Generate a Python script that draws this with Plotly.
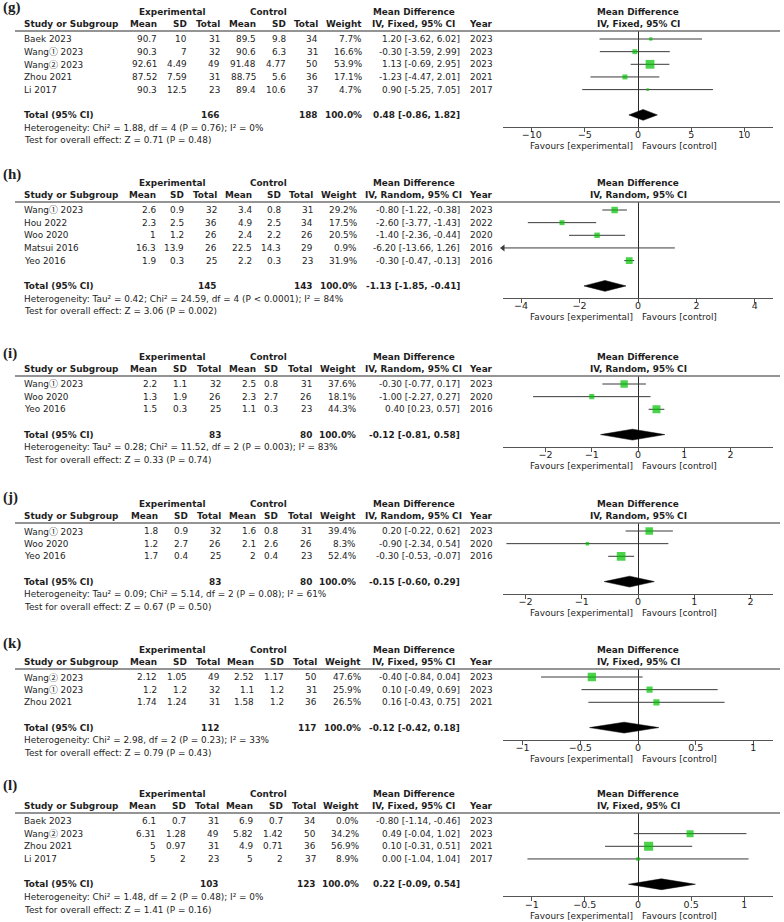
import math
import plotly.graph_objects as go

W, H = 784, 922
FONT = "DejaVu Sans, Noto Sans CJK JP"
FS = 8.9
PITCH = 12.65
TXT = "#1e1e1e"
GREEN = "#00C000"

# ---------------- data: panel (g) ----------------
g_study = ["Baek 2023", "Wang① 2023", "Wang② 2023", "Zhou 2021", "Li 2017"]
g_exp_mean = [90.7, 90.3, 92.61, 87.52, 90.3]
g_exp_sd = [10, 7, 4.49, 7.59, 12.5]
g_exp_n = [31, 32, 49, 31, 23]
g_ctl_mean = [89.5, 90.6, 91.48, 88.75, 89.4]
g_ctl_sd = [9.8, 6.3, 4.77, 5.6, 10.6]
g_ctl_n = [34, 31, 50, 36, 37]
g_weight = [7.7, 16.6, 53.9, 17.1, 4.7]
g_md = [1.20, -0.30, 1.13, -1.23, 0.90]
g_lo = [-3.62, -3.59, -0.69, -4.47, -5.25]
g_hi = [6.02, 2.99, 2.95, 2.01, 7.05]
g_year = [2023, 2023, 2023, 2021, 2017]
g_total = [166, 188, 0.48, -0.86, 1.82]
g_het = "Heterogeneity: Chi² = 1.88, df = 4 (P = 0.76); I² = 0%"
g_test = "Test for overall effect: Z = 0.71 (P = 0.48)"

# ---------------- data: panel (h) ----------------
h_study = ["Wang① 2023", "Hou 2022", "Woo 2020", "Matsui 2016", "Yeo 2016"]
h_exp_mean = [2.6, 2.3, 1, 16.3, 1.9]
h_exp_sd = [0.9, 2.5, 1.2, 13.9, 0.3]
h_exp_n = [32, 36, 26, 26, 25]
h_ctl_mean = [3.4, 4.9, 2.4, 22.5, 2.2]
h_ctl_sd = [0.8, 2.5, 2.2, 14.3, 0.3]
h_ctl_n = [31, 34, 26, 29, 23]
h_weight = [29.2, 17.5, 20.5, 0.9, 31.9]
h_md = [-0.80, -2.60, -1.40, -6.20, -0.30]
h_lo = [-1.22, -3.77, -2.36, -13.66, -0.47]
h_hi = [-0.38, -1.43, -0.44, 1.26, -0.13]
h_year = [2023, 2022, 2020, 2016, 2016]
h_total = [145, 143, -1.13, -1.85, -0.41]
h_het = "Heterogeneity: Tau² = 0.42; Chi² = 24.59, df = 4 (P < 0.0001); I² = 84%"
h_test = "Test for overall effect: Z = 3.06 (P = 0.002)"

# ---------------- data: panel (i) ----------------
i_study = ["Wang① 2023", "Woo 2020", "Yeo 2016"]
i_exp_mean = [2.2, 1.3, 1.5]
i_exp_sd = [1.1, 1.9, 0.3]
i_exp_n = [32, 26, 25]
i_ctl_mean = [2.5, 2.3, 1.1]
i_ctl_sd = [0.8, 2.7, 0.3]
i_ctl_n = [31, 26, 23]
i_weight = [37.6, 18.1, 44.3]
i_md = [-0.30, -1.00, 0.40]
i_lo = [-0.77, -2.27, 0.23]
i_hi = [0.17, 0.27, 0.57]
i_year = [2023, 2020, 2016]
i_total = [83, 80, -0.12, -0.81, 0.58]
i_het = "Heterogeneity: Tau² = 0.28; Chi² = 11.52, df = 2 (P = 0.003); I² = 83%"
i_test = "Test for overall effect: Z = 0.33 (P = 0.74)"

# ---------------- data: panel (j) ----------------
j_study = ["Wang① 2023", "Woo 2020", "Yeo 2016"]
j_exp_mean = [1.8, 1.2, 1.7]
j_exp_sd = [0.9, 2.7, 0.4]
j_exp_n = [32, 26, 25]
j_ctl_mean = [1.6, 2.1, 2]
j_ctl_sd = [0.8, 2.6, 0.4]
j_ctl_n = [31, 26, 23]
j_weight = [39.4, 8.3, 52.4]
j_md = [0.20, -0.90, -0.30]
j_lo = [-0.22, -2.34, -0.53]
j_hi = [0.62, 0.54, -0.07]
j_year = [2023, 2020, 2016]
j_total = [83, 80, -0.15, -0.60, 0.29]
j_het = "Heterogeneity: Tau² = 0.09; Chi² = 5.14, df = 2 (P = 0.08); I² = 61%"
j_test = "Test for overall effect: Z = 0.67 (P = 0.50)"

# ---------------- data: panel (k) ----------------
k_study = ["Wang② 2023", "Wang① 2023", "Zhou 2021"]
k_exp_mean = [2.12, 1.2, 1.74]
k_exp_sd = [1.05, 1.2, 1.24]
k_exp_n = [49, 32, 31]
k_ctl_mean = [2.52, 1.1, 1.58]
k_ctl_sd = [1.17, 1.2, 1.2]
k_ctl_n = [50, 31, 36]
k_weight = [47.6, 25.9, 26.5]
k_md = [-0.40, 0.10, 0.16]
k_lo = [-0.84, -0.49, -0.43]
k_hi = [0.04, 0.69, 0.75]
k_year = [2023, 2023, 2021]
k_total = [112, 117, -0.12, -0.42, 0.18]
k_het = "Heterogeneity: Chi² = 2.98, df = 2 (P = 0.23); I² = 33%"
k_test = "Test for overall effect: Z = 0.79 (P = 0.43)"

# ---------------- data: panel (l) ----------------
l_study = ["Baek 2023", "Wang② 2023", "Zhou 2021", "Li 2017"]
l_exp_mean = [6.1, 6.31, 5, 5]
l_exp_sd = [0.7, 1.28, 0.97, 2]
l_exp_n = [31, 49, 31, 23]
l_ctl_mean = [6.9, 5.82, 4.9, 5]
l_ctl_sd = [0.7, 1.42, 0.71, 2]
l_ctl_n = [34, 50, 36, 37]
l_weight = [0.0, 34.2, 56.9, 8.9]
l_md = [-0.80, 0.49, 0.10, 0.00]
l_lo = [-1.14, -0.04, -0.31, -1.04]
l_hi = [-0.46, 1.02, 0.51, 1.04]
l_year = [2023, 2023, 2021, 2017]
l_total = [103, 123, 0.22, -0.09, 0.54]
l_het = "Heterogeneity: Chi² = 1.48, df = 2 (P = 0.48); I² = 0%"
l_test = "Test for overall effect: Z = 1.41 (P = 0.16)"

panel_tags = ["(g)", "(h)", "(i)", "(j)", "(k)", "(l)"]
panel_methods = ["Fixed", "Random", "Random", "Random", "Fixed", "Fixed"]
panel_ticks = [[-10, -5, 0, 5, 10], [-4, -2, 0, 2, 4], [-2, -1, 0, 1, 2],
               [-2, -1, 0, 1, 2], [-1, -0.5, 0, 0.5, 1], [-1, -0.5, 0, 0.5, 1]]

panels = []
for pre in "ghijkl":
    G = globals()
    panels.append(dict(
        study=G[pre + "_study"], em=G[pre + "_exp_mean"], esd=G[pre + "_exp_sd"], en=G[pre + "_exp_n"],
        cm=G[pre + "_ctl_mean"], csd=G[pre + "_ctl_sd"], cn=G[pre + "_ctl_n"], w=G[pre + "_weight"],
        md=G[pre + "_md"], lo=G[pre + "_lo"], hi=G[pre + "_hi"], year=G[pre + "_year"],
        total=G[pre + "_total"], het=G[pre + "_het"], test=G[pre + "_test"]))

# ---------------- layout (pixel geometry) ----------------
TOPS = [31, 202, 376, 523, 669, 813]
LABEL_PX = [8, 175, 353, 497, 643, 785]
XHALF = [12.7, 4.62, 2.92, 2.40, 1.17, 1.27]
COLS = [
    [158, 188, 221, 257, 287, 319, 363],
    [157, 185, 218, 253, 282, 314, 358],
    [158, 188, 222, 257, 279, 313, 357],
    [159, 189, 222, 257, 279, 313, 357],
    [158, 188, 221, 255, 285, 318, 362],
    [157, 187, 220, 254, 284, 317, 360],
]
STUDY_X = 23
MD_R = 461
YEAR_R = 494
MDHDR_C = 414
EXP_C = 172
CTL_C = 268
PLOT_X0, PLOT_X1 = 503, 773
CJK = "Noto Sans CJK JP"


def fmt(v):
    return "%g" % v


def fmt2(v):
    return "%.2f" % v


def ci_txt(m, a, b):
    return "%s [%s, %s]" % (fmt2(m), fmt2(a), fmt2(b))


def study_html(s):
    for ch in "①②":
        s = s.replace(ch, '<span style="font-family:%s">%s</span>' % (CJK, ch))
    return s


fig = go.Figure()
ann = []
shapes = []


def py(px):
    return 1 - px / H


def text(x, ypx, s, anchor="left", bold=False, size=FS, family=FONT, xref="paper", xshift=0):
    ann.append(dict(x=x, y=py(ypx), xref=xref, yref="paper",
                    text=("<b>%s</b>" % s) if bold else s,
                    showarrow=False, xanchor=anchor, yanchor="middle", xshift=xshift,
                    borderpad=0, font=dict(family=family, size=size, color=TXT)))


for p, d in enumerate(panels):
    n = len(d["study"])
    T = TOPS[p]
    sfx = "" if p == 0 else str(p + 1)
    xa, ya = "x" + sfx, "y" + sfx
    top_row = -8 / PITCH
    bot_row = n + 1.95

    def rpx(r):
        return T + 8 + PITCH * r

    bot_px = rpx(bot_row)
    xr = XHALF[p]

    fig.layout["xaxis" + sfx] = dict(
        domain=[PLOT_X0 / W, PLOT_X1 / W], anchor=ya, range=[-xr, xr],
        tickvals=panel_ticks[p], showgrid=False, zeroline=True, zerolinecolor="#2a2a2a",
        zerolinewidth=1, showline=True, linecolor="#555555", linewidth=1.2,
        ticks="outside", ticklen=4, tickcolor="#555555", tickwidth=1,
        ticklabelstandoff=-5,
        tickfont=dict(family=FONT, size=FS + 0.6, color=TXT), fixedrange=True)
    fig.layout["yaxis" + sfx] = dict(
        domain=[py(bot_px), py(T)], anchor=xa, range=[bot_row, top_row],
        visible=False, fixedrange=True)

    rows = list(range(n))
    # CI lines
    lx, ly = [], []
    arr_x, arr_y = [], []
    for r in rows:
        if d["w"][r] <= 0:
            continue
        lx += [d["lo"][r], d["hi"][r], None]
        ly += [r, r, None]
        if d["lo"][r] < -xr:
            arr_x.append(-xr)
            arr_y.append(r)
    fig.add_trace(go.Scatter(x=lx, y=ly, xaxis=xa, yaxis=ya, mode="lines",
                             line=dict(color="#3a3a3a", width=1), hoverinfo="skip", showlegend=False))
    if arr_x:
        fig.add_trace(go.Scatter(x=arr_x, y=arr_y, xaxis=xa, yaxis=ya, mode="markers",
                                 marker=dict(symbol="triangle-left", size=6, color="#3a3a3a"),
                                 cliponaxis=False, hoverinfo="skip", showlegend=False))
    # weighted squares
    mx, my, ms = [], [], []
    for r in rows:
        if d["w"][r] <= 0:
            continue
        mx.append(d["md"][r])
        my.append(r)
        ms.append(max(2.5, 1.2 * math.sqrt(d["w"][r])))
    fig.add_trace(go.Scatter(x=mx, y=my, xaxis=xa, yaxis=ya, mode="markers",
                             marker=dict(symbol="square", size=ms, color=GREEN, line=dict(width=0)),
                             hoverinfo="skip", showlegend=False))
    # pooled diamond
    tr = n + 1
    tn_e, tn_c, tm, tlo, thi = d["total"]
    hh = 0.43
    fig.add_trace(go.Scatter(x=[tlo, tm, thi, tm, tlo], y=[tr, tr - hh, tr, tr + hh, tr],
                             xaxis=xa, yaxis=ya, mode="lines", fill="toself", fillcolor="black",
                             line=dict(color="black", width=0.5), hoverinfo="skip", showlegend=False))

    # header rule
    shapes.append(dict(type="line", xref="paper", yref="paper", x0=15 / W, x1=780 / W,
                       y0=py(T), y1=py(T), line=dict(color="#707070", width=1.5)))

    c = COLS[p]
    h1, h2 = rpx(-2.13), rpx(-1.15)
    # panel tag
    text(2 / W, LABEL_PX[p], panel_tags[p], bold=True, size=15, family="Liberation Serif")
    # header line 1
    text(EXP_C / W, h1, "Experimental", "center", True)
    text(CTL_C / W, h1, "Control", "center", True)
    text(MDHDR_C / W, h1, "Mean Difference", "center", True)
    text(0, h1, "Mean Difference", "center", True, xref=xa)
    # header line 2
    meth = "IV, %s, 95%% CI" % panel_methods[p]
    text(STUDY_X / W, h2, "Study or Subgroup", "left", True)
    for col, lab in zip(c, ["Mean", "SD", "Total", "Mean", "SD", "Total", "Weight"]):
        text(col / W, h2, lab, "right", True)
    text(MDHDR_C / W, h2, meth, "center", True)
    text(YEAR_R / W, h2, "Year", "right", True)
    text(0, h2, meth, "center", True, xref=xa)

    # study rows
    for r in rows:
        y = rpx(r)
        text(STUDY_X / W, y, study_html(d["study"][r]))
        vals = [fmt(d["em"][r]), fmt(d["esd"][r]), str(d["en"][r]), fmt(d["cm"][r]),
                fmt(d["csd"][r]), str(d["cn"][r]), "%.1f%%" % d["w"][r]]
        for col, v in zip(c, vals):
            text(col / W, y, v, "right")
        text(MD_R / W, y, ci_txt(d["md"][r], d["lo"][r], d["hi"][r]), "right")
        text(YEAR_R / W, y, str(d["year"][r]), "right")

    # total row
    yt = rpx(tr)
    text(STUDY_X / W, yt, "Total (95% CI)", "left", True)
    text(c[2] / W, yt, str(tn_e), "right", True)
    text(c[5] / W, yt, str(tn_c), "right", True)
    text(c[6] / W, yt, "100.0%", "right", True)
    text(MD_R / W, yt, ci_txt(tm, tlo, thi), "right", True)
    text(STUDY_X / W, rpx(n + 2), d["het"])
    text(STUDY_X / W, rpx(n + 3), d["test"])

    # favours labels
    text(0, bot_px + 19.5, "Favours [experimental]", "right", xref=xa, xshift=-4)
    text(0, bot_px + 19.5, "Favours [control]", "left", xref=xa, xshift=3)

fig.update_layout(width=W, height=H, margin=dict(l=0, r=0, t=0, b=0),
                  paper_bgcolor="white", plot_bgcolor="white",
                  annotations=ann, shapes=shapes, showlegend=False)
fig.write_html("out.html", config={"displayModeBar": False},
               post_script="document.body.style.margin='0px';")
